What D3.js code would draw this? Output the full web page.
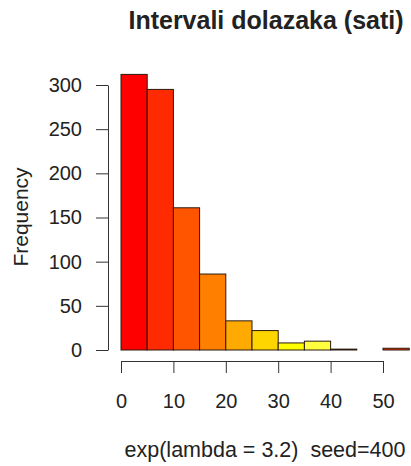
<!DOCTYPE html>
<html>
<head>
<meta charset="utf-8">
<script src="https://cdn.jsdelivr.net/npm/d3@7"></script>
<style>
  body { margin: 0; background: #fff; }
  svg text { font-family: "Liberation Sans", Arial, sans-serif; fill: #222; }
  .axis path, .axis line { stroke: #333; stroke-width: 1; }
</style>
</head>
<body>
<div id="chart-area"></div>
<script>
// histogram bins (hours) and counts
var binStarts = [0, 5, 10, 15, 20, 25, 30, 35, 40, 45, 50];
var binWidth = 5;
var counts = [312, 295, 161, 86, 33, 22, 8, 10, 1, 0, 2];
var xTicks = [0, 10, 20, 30, 40, 50];
var yTicks = [0, 50, 100, 150, 200, 250, 300];
// heat.colors(9), recycled like R does
var heatColors = ["#FF0000", "#FF2A00", "#FF5500", "#FF8000", "#FFAA00", "#FFD500", "#FFFF00", "#FFFF40", "#FFFFBF"];

var width = 411, height = 466;

var svg = d3.select("#chart-area").append("svg")
  .attr("width", width)
  .attr("height", height);

var x = d3.scaleLinear().domain([0, 50]).range([121, 383]);
var y = d3.scaleLinear().domain([0, 300]).range([350, 85]);

// bars
svg.selectAll("rect.bar")
  .data(counts)
  .enter()
  .append("rect")
  .attr("class", "bar")
  .attr("x", function(d, i) { return x(binStarts[i]); })
  .attr("width", function(d, i) { return x(binStarts[i] + binWidth) - x(binStarts[i]); })
  .attr("y", function(d) { return y(d); })
  .attr("height", function(d) { return y(0) - y(d); })
  .style("fill", function(d, i) { return heatColors[i % heatColors.length]; })
  .style("stroke", "#2a1a10")
  .style("stroke-width", 1);

// axes
var xAxis = d3.axisBottom(x).tickValues(xTicks).tickSize(12).tickSizeOuter(0).tickPadding(21);
var yAxis = d3.axisLeft(y).tickValues(yTicks).tickSize(12).tickSizeOuter(0).tickPadding(14);

svg.append("g")
  .attr("class", "axis x-axis")
  .attr("transform", "translate(0,361)")
  .call(xAxis)
  .selectAll("text").style("font-size", "20px");

svg.append("g")
  .attr("class", "axis y-axis")
  .attr("transform", "translate(108,0)")
  .call(yAxis)
  .selectAll("text").style("font-size", "20px");

// title
svg.append("text")
  .attr("x", 266)
  .attr("y", 29)
  .attr("text-anchor", "middle")
  .style("font-size", "25px")
  .style("font-weight", "bold")
  .text("Intervali dolazaka (sati)");

// y label
svg.append("text")
  .attr("transform", "translate(28,217) rotate(-90)")
  .attr("text-anchor", "middle")
  .style("font-size", "21px")
  .text("Frequency");

// sub
svg.append("text")
  .attr("x", 265)
  .attr("y", 457)
  .attr("text-anchor", "middle")
  .style("font-size", "21.5px")
  .style("white-space", "pre")
  .text("exp(lambda = 3.2)  seed=400");
</script>
</body>
</html>
